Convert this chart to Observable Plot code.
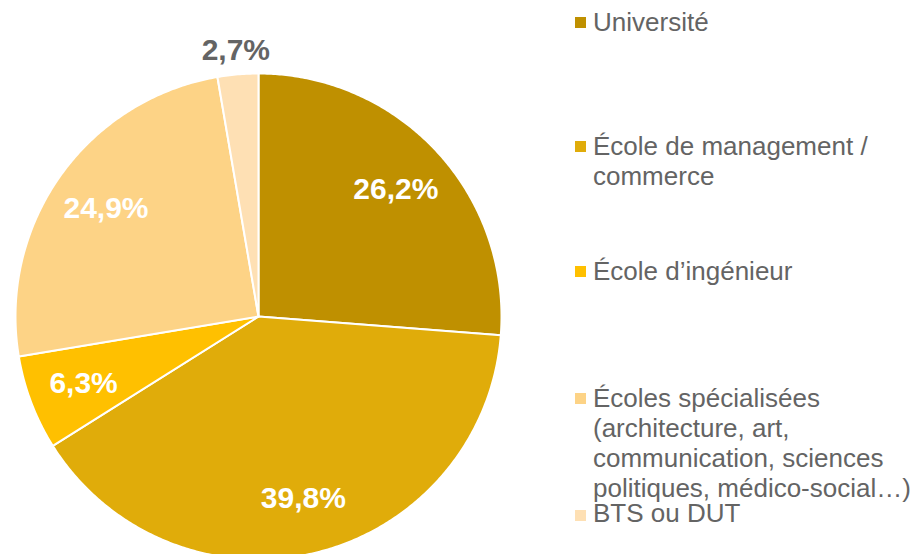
<!DOCTYPE html>
<html>
<head>
<meta charset="utf-8">
<script src="https://cdn.jsdelivr.net/npm/d3@7"></script>
<script src="https://cdn.jsdelivr.net/npm/@observablehq/plot@0.6"></script>
<style>
  html, body { margin: 0; padding: 0; background: #fff; overflow: hidden; }
  #wrap { position: relative; width: 922px; height: 554px; font-family: "Liberation Sans", Arial, sans-serif; }
  #chart { position: absolute; left: 0; top: 0; }
  .item { position: absolute; left: 575px; width: 345px; font-size: 26px; line-height: 30px; color: #646464; }
  .item .sw { position: absolute; left: 0; top: 10px; width: 11px; height: 11px; }
  .item .tx { display: block; padding-left: 18px; }
  .item:nth-child(1) { top: 7px; }
  .item:nth-child(2) { top: 131px; }
  .item:nth-child(3) { top: 256px; }
  .item:nth-child(4) { top: 383px; }
  .item:nth-child(5) { top: 500px; line-height: 26px; }
</style>
</head>
<body>
<div id="wrap">
  <div id="chart"></div>
  <div id="legend"></div>
</div>
<script>
const categories = [
  "Université",
  "École de management / commerce",
  "École d’ingénieur",
  "Écoles spécialisées (architecture, art, communication, sciences politiques, médico-social…)",
  "BTS ou DUT"
];
const shares = [26.2, 39.8, 6.3, 24.9, 2.7];
const labels = ["26,2%", "39,8%", "6,3%", "24,9%", "2,7%"];
const colors = ["#BF9000", "#E0AC0A", "#FFC000", "#FDD386", "#FEE0B4"];

// layout
const W = 560, H = 554, CX = 258, CY = 316, R = 243;

const total = d3.sum(shares);
const slices = [];
let acc = 0;
categories.forEach((c, i) => {
  const a0 = acc / total * 2 * Math.PI;
  acc += shares[i];
  const a1 = acc / total * 2 * Math.PI;
  slices.push({cat: c, a0, a1, share: shares[i], label: labels[i]});
});

const pts = [];
for (const s of slices) {
  pts.push({cat: s.cat, x: 0, y: 0});
  const n = Math.max(2, Math.ceil((s.a1 - s.a0) / (Math.PI / 360)));
  for (let k = 0; k <= n; k++) {
    const a = s.a0 + (s.a1 - s.a0) * k / n;
    pts.push({cat: s.cat, x: Math.sin(a), y: Math.cos(a)});
  }
  pts.push({cat: s.cat, x: 0, y: 0});
}

const labelData = slices.map(s => {
  const m = (s.a0 + s.a1) / 2;
  const outside = s.share < 5;
  const r = outside ? 1.1 : 0.77;
  return {label: s.label, x: Math.sin(m) * r, y: Math.cos(m) * r, outside};
});

const chart = Plot.plot({
  width: W,
  height: H,
  margin: 0,
  x: {domain: [-CX / R, (W - CX) / R], axis: null},
  y: {domain: [-(H - CY) / R, CY / R], axis: null},
  color: {domain: categories, range: colors},
  marks: [
    Plot.line(pts, {x: "x", y: "y", z: "cat", fill: "cat", stroke: "white", strokeWidth: 2, curve: "linear"}),
    Plot.text(labelData, {
      x: "x", y: "y", text: "label",
      fill: d => d.outside ? "#646464" : "white",
      fontSize: 30, fontWeight: "bold",
      fontFamily: "Liberation Sans, Arial, sans-serif",
      textAnchor: "middle", lineAnchor: "middle"
    })
  ]
});
document.getElementById("chart").appendChild(chart);

const legend = document.getElementById("legend");
categories.forEach((c, i) => {
  const it = document.createElement("div");
  it.className = "item";
  const sw = document.createElement("span");
  sw.className = "sw";
  sw.style.background = colors[i];
  const tx = document.createElement("span");
  tx.className = "tx";
  tx.textContent = c;
  it.appendChild(sw);
  it.appendChild(tx);
  legend.appendChild(it);
});
</script>
</body>
</html>
